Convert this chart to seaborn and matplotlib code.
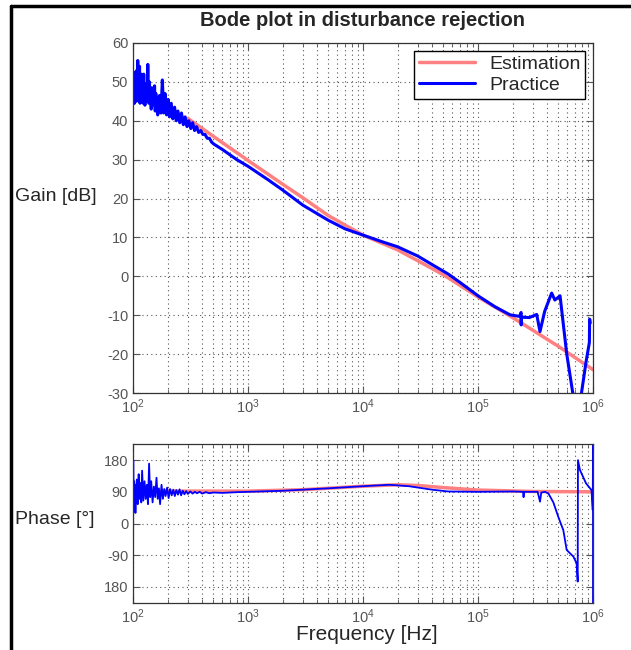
import numpy as np
import pandas as pd
import seaborn as sns
import matplotlib.pyplot as plt
from matplotlib.ticker import LogLocator, NullFormatter

# Gain data (frequency in Hz, gain in dB)
est_gain_f = [300, 500, 1000, 2000, 3000, 5000, 10000, 20000, 30000, 50000,
              100000, 200000, 500000, 1000000]
est_gain_db = [40.6, 36.0, 29.8, 23.7, 20.2, 15.6, 10.6, 6.8, 4.0, 0.4,
               -5.3, -10.6, -18.0, -24.0]

prac_gain_f = [100, 100.5, 101, 101.5, 102, 103, 104, 105, 106, 107, 108, 109, 110,
               111, 112, 113, 114, 115, 116, 117, 118, 119.5, 121, 122.5, 124, 125.5,
               127, 128.5, 130, 131.5, 133, 134.5, 136, 137.5, 139, 140.5, 142, 144,
               146, 148, 150, 152, 154, 156, 158, 160, 162, 164, 166, 168, 170, 175,
               180, 185, 190, 196, 202, 208, 215, 222, 230, 238, 246, 255, 264, 274,
               284, 295, 306, 318, 330, 343, 357, 372, 388, 405, 423, 442, 462, 483,
               505, 600, 800, 1000, 1500, 2000, 3000, 5000, 7000, 10000, 15000, 20000,
               30000, 40000, 55000, 70000, 100000, 140000, 190000, 230000, 237000,
               237500, 238000, 280000, 324000, 346000, 380000, 437000, 466000, 517000,
               590000, 675000, 720000, 760000, 794000, 870000, 930000, 935000, 945000]
prac_gain_db = [48, 44.5, 52, 45, 50, 44.5, 52.5, 46, 50, 45, 53, 47, 55.5,
                46, 52, 47, 54, 44.5, 50, 46, 52, 45.5, 49, 44.5, 52, 46,
                44, 49.5, 45, 48, 46, 54.5, 47, 44.5, 50, 45, 48, 43,
                48.5, 44, 47, 44.5, 49, 42.5, 47, 43, 46, 41.5, 45, 43.5, 46.5, 42,
                50.5, 42, 47, 41.5, 45.5, 41, 44.5, 40.5, 43.5, 40, 42.5, 39.5, 42, 39,
                41, 38.5, 40, 38, 39.5, 37.5, 38.5, 37, 37.5, 36.5, 36.5, 35.5, 35.5, 34.5,
                34, 32.6, 30, 28.3, 24.8, 22.2, 18.3, 14.4, 12.2, 10.6, 8.8, 7.6,
                5.2, 3.0, 0.6, -1.6, -5, -7.8, -9.9, -10.3, -9.3,
                -12.5, -10.5, -10.6, -9.8, -14.2, -9, -4.3, -6.1, -5,
                -19.8, -31, -40, -38, -30, -22, -17, -11, -12]

# Phase data (frequency in Hz, phase in degrees)
est_phase_f = [170, 300, 1000, 3000, 10000, 20000, 30000, 50000, 100000, 300000, 1000000]
est_phase_deg = [92, 92, 92, 96, 106, 110, 108, 102, 95, 91, 90]

prac_phase_f = [100, 100.5, 101, 102, 103, 104, 105, 106, 108, 110, 112, 114, 116, 118,
                120, 123, 126, 129, 132, 135, 138, 141, 144, 148, 152, 156, 160, 164,
                168, 172, 177, 182, 187, 192, 198, 204, 210, 217, 224, 231, 238, 246,
                254, 262, 271, 280, 290, 300, 315, 330, 345, 360, 380, 400, 430, 460,
                500, 600, 800, 1000, 2000, 5000, 10000, 17000, 25000, 40000, 55000,
                100000, 200000, 248000, 249000, 250000, 330000, 346000, 355000, 383000,
                410000, 452000, 499000, 552000, 590000, 675000, 720000, 736000, 740000,
                770000, 870000, 970000, 995000, 1000000, 1000000]
prac_phase_deg = [-230, 180, 60, 120, 40, 110, 30, 95, 125, 55, 140, 70, 115, 60,
                  150, 65, 120, 70, 110, 55, 170, 75, 120, 60, 105, 75, 130, 70,
                  100, 55, 110, 70, 98, 78, 102, 72, 98, 80, 96, 78, 95, 82,
                  97, 80, 93, 83, 92, 84, 91, 85, 90, 86, 90, 85, 89, 86,
                  88, 87, 89, 90, 93, 100, 106, 110, 106, 96, 91,
                  90, 91, 90, 75, 90, 90, 62, 88, 90,
                  85, 60, 19, -19, -75, -94, -113, -165, 180,
                  152, 114, 95, 38, 230, -230]

est_color = '#ff8080'
prac_color = '#0000ff'

sns.set_style('ticks')
plt.rcParams['font.family'] = ['Liberation Sans', 'DejaVu Sans']
plt.rcParams['axes.unicode_minus'] = False

fig = plt.figure(figsize=(6.31, 6.5), dpi=100)
ax1 = fig.add_axes([133 / 631, 1 - 393 / 650, 460 / 631, 350 / 650])
ax2 = fig.add_axes([133 / 631, 1 - 602.7 / 650, 460 / 631, 158.4 / 650])

gain_est = pd.DataFrame({'f': est_gain_f, 'v': est_gain_db})
gain_prac = pd.DataFrame({'f': prac_gain_f, 'v': prac_gain_db})
phase_est = pd.DataFrame({'f': est_phase_f, 'v': est_phase_deg})
phase_prac = pd.DataFrame({'f': prac_phase_f, 'v': prac_phase_deg})

sns.lineplot(data=gain_est, x='f', y='v', ax=ax1, color=est_color, lw=2.5,
             sort=False, estimator=None, label='Estimation')
sns.lineplot(data=gain_prac, x='f', y='v', ax=ax1, color=prac_color, lw=2.2,
             sort=False, estimator=None, label='Practice')
sns.lineplot(data=phase_est, x='f', y='v', ax=ax2, color=est_color, lw=2.5,
             sort=False, estimator=None)
sns.lineplot(data=phase_prac, x='f', y='v', ax=ax2, color=prac_color, lw=1.3,
             sort=False, estimator=None)

for ax in (ax1, ax2):
    ax.set_xscale('log')
    ax.set_xlim(1e2, 1e6)
    ax.xaxis.set_major_locator(LogLocator(base=10, numticks=10))
    ax.xaxis.set_minor_locator(LogLocator(base=10, subs=np.arange(2, 10), numticks=100))
    ax.xaxis.set_minor_formatter(NullFormatter())
    ax.grid(True, which='major', color='#555555', lw=0.8, linestyle=(0, (1, 3)))
    ax.grid(True, which='minor', axis='x', color='#555555', lw=0.8, linestyle=(0, (1, 3)))
    ax.tick_params(which='both', direction='in', top=True, right=True,
                   color='#555555', labelcolor='#555555', labelsize=10.5)
    ax.tick_params(which='major', length=5)
    ax.tick_params(which='minor', length=3)
    ax.set_xlabel('')
    ax.set_ylabel('')
    for sp in ax.spines.values():
        sp.set_color('#333333')
        sp.set_linewidth(0.9)

ax1.set_ylim(-30, 60)
ax1.set_yticks([-30, -20, -10, 0, 10, 20, 30, 40, 50, 60])
ax2.set_ylim(-225, 225)
ax2.set_yticks([180, 90, 0, -90, -180])
ax2.set_yticklabels(['180', '90', '0', '-90', '180'])

leg = ax1.legend(loc='upper right', fontsize=14, frameon=True, fancybox=False,
                 edgecolor='black', framealpha=1, handlelength=2.9,
                 handletextpad=0.7, borderpad=0.25, labelspacing=0.15,
                 borderaxespad=0.4)
leg.get_frame().set_linewidth(1.0)

fig.text(362 / 631, 1 - 20 / 650, 'Bode plot in disturbance rejection',
         ha='center', va='center', fontsize=14.5, fontweight='bold')
fig.text(15 / 631, 1 - 197 / 650, 'Gain [dB]', ha='left', va='center', fontsize=14)
fig.text(15 / 631, 1 - 520 / 650, 'Phase [°]', ha='left', va='center', fontsize=14)
fig.text(367 / 631, 1 - 635 / 650, 'Frequency [Hz]', ha='center', va='center', fontsize=15)

# figure frame lines (top and left)
fig.add_artist(plt.Line2D([11 / 631, 11 / 631], [0, 1 - 6 / 650], color='black', lw=2.5,
                          transform=fig.transFigure))
fig.add_artist(plt.Line2D([11 / 631, 1], [1 - 6 / 650, 1 - 6 / 650], color='black', lw=2.5,
                          transform=fig.transFigure))

fig.savefig('out.png', dpi=100)
